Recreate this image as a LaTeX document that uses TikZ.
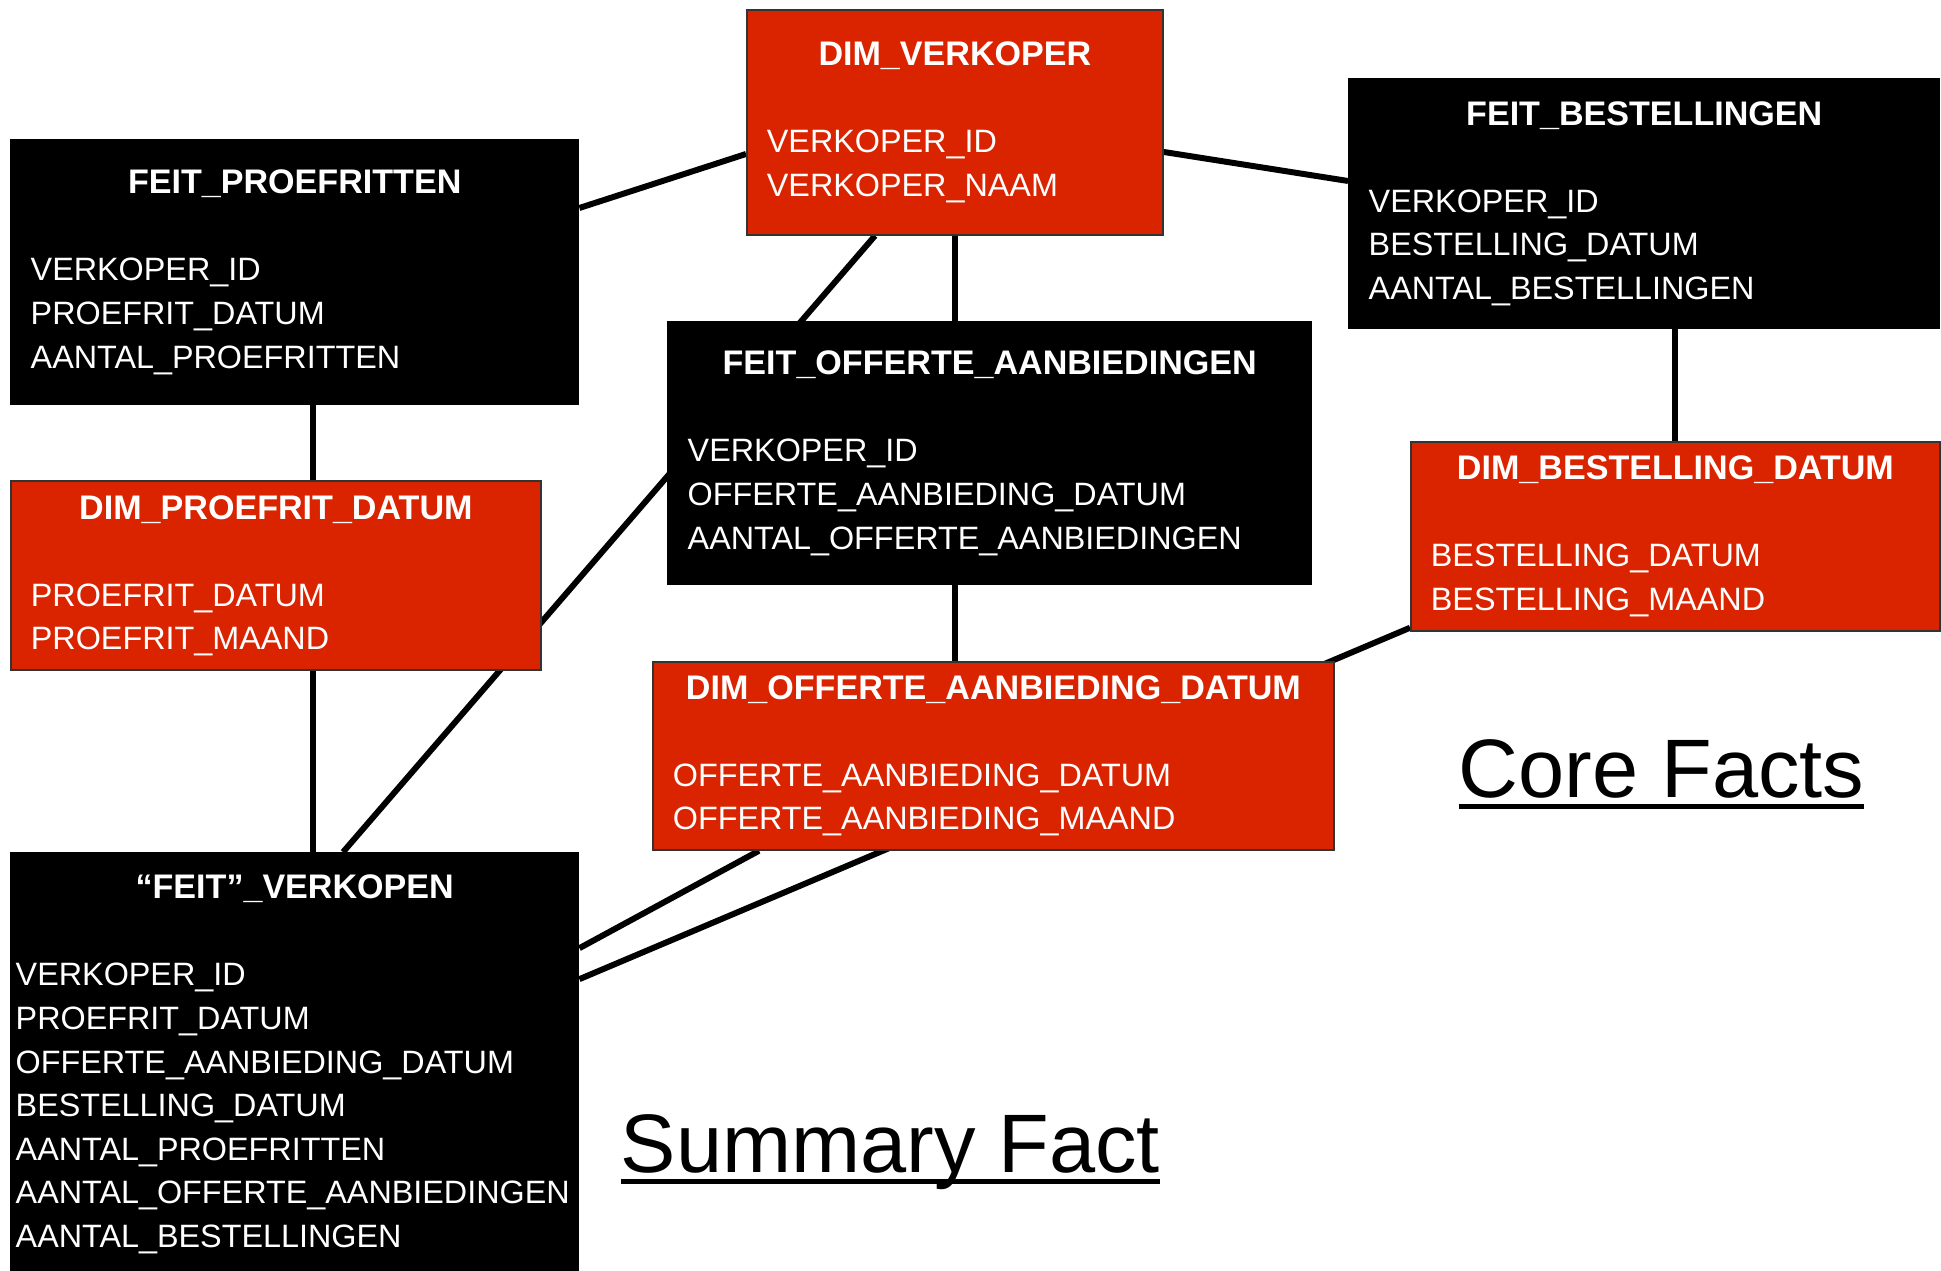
\documentclass[tikz,border=0pt]{standalone}
\usepackage{fontspec}
\setmainfont{Liberation Sans}
\usetikzlibrary{positioning}
\usetikzlibrary{backgrounds}
\definecolor{dimrood}{RGB}{218,36,0}
\newcommand{\titelfont}{\fontsize{9.7}{12.4}\selectfont\bfseries}
\newcommand{\tabel}[2]{\makebox[\linewidth][c]{\titelfont #1}\\[12.4pt]#2}
\newcommand{\onderstreept}[1]{\vtop{\hbox{\raisebox{0pt}[\height][0pt]{#1}}\kern1.8pt\hrule height 1.4pt}}
\tikzset{
	feit/.style={draw=black, rectangle, fill=black, text=white, anchor=north west, align=left, inner xsep=0.2cm, inner ysep=0pt, font=\fontsize{9.2}{12.4}\selectfont},
	dim/.style={feit, draw=black!80, line width=0.5pt, fill=dimrood},
	verbinding/.style={draw=black, line width=1.7pt},
	% grote onderschriften
	kopje/.style={anchor=base west, inner sep=0pt, font=\fontsize{23.6}{28}\selectfont},
}

\begin{document}
\begin{tikzpicture}
	\useasboundingbox (0,0) rectangle (19.41,12.71);
	
	\node (dimverkoper) [dim, text width=3.76cm, minimum height=2.25cm] at (7.46,12.62) {\tabel{DIM\_VERKOPER}{VERKOPER\_ID\\VERKOPER\_NAAM}};
	
	\node (proefritten) [feit, text width=5.28cm, minimum height=2.65cm] at (0.10,11.32) {\tabel{FEIT\_PROEFRITTEN}{VERKOPER\_ID\\PROEFRIT\_DATUM\\AANTAL\_PROEFRITTEN}};
	\node (dimproefrit) [dim, text width=4.90cm, minimum height=1.89cm, below=0.75cm of proefritten.south west, anchor=north west] {\tabel{DIM\_PROEFRIT\_DATUM}{PROEFRIT\_DATUM\\PROEFRIT\_MAAND}};
	\node (verkopen) [feit, text width=5.58cm, inner xsep=0.05cm, minimum height=4.23cm, below=1.81cm of dimproefrit.south west, anchor=north west] {\tabel{``FEIT''\_VERKOPEN}{VERKOPER\_ID\\PROEFRIT\_DATUM\\OFFERTE\_AANBIEDING\_DATUM\\BESTELLING\_DATUM\\AANTAL\_PROEFRITTEN\\AANTAL\_OFFERTE\_AANBIEDINGEN\\AANTAL\_BESTELLINGEN}};
	
	\node (offerte) [feit, text width=6.04cm, minimum height=2.63cm] at (6.67,9.50) {\tabel{FEIT\_OFFERTE\_AANBIEDINGEN}{VERKOPER\_ID\\OFFERTE\_AANBIEDING\_DATUM\\AANTAL\_OFFERTE\_AANBIEDINGEN}};
	\node (dimofferte) [dim, text width=6.41cm, minimum height=1.88cm] at (6.52,6.10) {\tabel{DIM\_OFFERTE\_AANBIEDING\_DATUM}{OFFERTE\_AANBIEDING\_DATUM\\OFFERTE\_AANBIEDING\_MAAND}};
	
	\node (bestellingen) [feit, text width=5.51cm, minimum height=2.50cm] at (13.48,11.93) {\tabel{FEIT\_BESTELLINGEN}{VERKOPER\_ID\\BESTELLING\_DATUM\\AANTAL\_BESTELLINGEN}};
	\node (dimbestelling) [dim, text width=4.89cm, minimum height=1.89cm] at (14.10,8.30) {\tabel{DIM\_BESTELLING\_DATUM}{BESTELLING\_DATUM\\BESTELLING\_MAAND}};
	
	\node (corefacts) [kopje] at (14.58,4.73) {\onderstreept{Core Facts}};
	\node (summary) [kopje] at (6.20,0.98) {\onderstreept{Summary Fact}};
	
	\begin{scope}[on background layer]
		\draw [verbinding] ([yshift=-0.69cm]proefritten.north east) -- ([yshift=-1.45cm]dimverkoper.north west);
		\draw [verbinding] ([yshift=-1.43cm]dimverkoper.north east) -- ([yshift=-1.03cm]bestellingen.north west);
		\draw [verbinding] ([xshift=1.29cm]dimverkoper.south west) -- ([xshift=3.33cm]verkopen.north west);
		\draw [verbinding] (dimverkoper.south) -- (dimverkoper.south |- offerte.north);
		\draw [verbinding] (dimverkoper.south |- offerte.south) -- (dimverkoper.south |- dimofferte.north);
		\draw [verbinding] ([xshift=3.03cm]proefritten.south west) -- ([xshift=3.03cm]dimproefrit.north west);
		\draw [verbinding] ([xshift=3.03cm]dimproefrit.south west) -- ([xshift=3.03cm]verkopen.north west);
		\draw [verbinding] (dimbestelling.north |- bestellingen.south) -- (dimbestelling.north);
		\draw [verbinding] ([yshift=0.04cm]dimbestelling.south west) -- ([yshift=-1.27cm]verkopen.north east);
		\draw [verbinding] ([yshift=-0.96cm]verkopen.north east) -- ([xshift=1.07cm]dimofferte.south west);
	\end{scope}
\end{tikzpicture}
\end{document}
